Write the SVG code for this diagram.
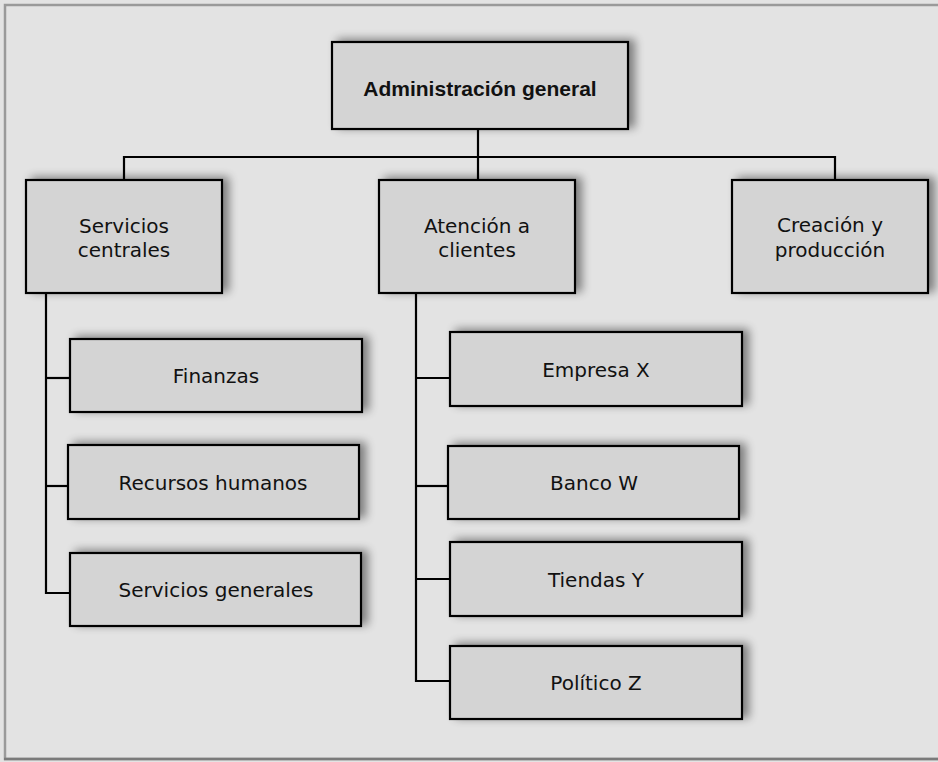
<svg xmlns="http://www.w3.org/2000/svg" width="938" height="762" viewBox="0 0 938 762">
  <defs>
    <filter id="sh" x="-20%" y="-40%" width="140%" height="180%">
      <feGaussianBlur in="SourceAlpha" stdDeviation="5"/>
      <feOffset dx="6" dy="-2" result="b"/>
      <feComponentTransfer><feFuncA type="linear" slope="0.45"/></feComponentTransfer>
      <feMerge><feMergeNode/><feMergeNode in="SourceGraphic"/></feMerge>
    </filter>
  </defs>
  <style>
    .box{fill:#d4d4d4;stroke:#000;stroke-width:2.2;filter:url(#sh)}
    .t{font-family:"DejaVu Sans",sans-serif;font-size:20px;fill:#111;text-anchor:middle}
    .tb{font-family:"Liberation Sans",Arial,sans-serif;font-size:21px;font-weight:bold;fill:#111;text-anchor:middle}
    .ln{fill:none;stroke:#000;stroke-width:2.2}
  </style>
  <rect x="0" y="0" width="938" height="762" fill="#e3e3e3"/>
  <rect x="5" y="5" width="945" height="754" fill="#e3e3e3" stroke="#9a9a9a" stroke-width="2.5"/>
  <line x1="4" y1="759" x2="938" y2="759" stroke="#7a7a7a" stroke-width="2.5"/>

  <g id="connectors">
    <path class="ln" d="M478 129 V180"/>
    <path class="ln" d="M124 180 V157 H835 V180"/>
    <path class="ln" d="M46 293 V593 H70"/>
    <path class="ln" d="M46 378 H70"/>
    <path class="ln" d="M46 486 H68"/>
    <path class="ln" d="M416 293 V681 H450"/>
    <path class="ln" d="M416 378 H450"/>
    <path class="ln" d="M416 486 H448"/>
    <path class="ln" d="M416 579 H450"/>
  </g>

  <g id="n-admin">
    <rect class="box" x="332" y="42" width="296" height="87"/>
    <text class="tb" x="480" y="96">Administración general</text>
  </g>
  <g id="n-servicios-centrales">
    <rect class="box" x="26" y="180" width="196" height="113"/>
    <text class="t" x="124" y="233">Servicios</text>
    <text class="t" x="124" y="257">centrales</text>
  </g>
  <g id="n-atencion">
    <rect class="box" x="379" y="180" width="196" height="113"/>
    <text class="t" x="477" y="233">Atención a</text>
    <text class="t" x="477" y="257">clientes</text>
  </g>
  <g id="n-creacion">
    <rect class="box" x="732" y="180" width="196" height="113"/>
    <text class="t" x="830" y="232">Creación y</text>
    <text class="t" x="830" y="257">producción</text>
  </g>
  <g id="n-finanzas">
    <rect class="box" x="70" y="339" width="292" height="73"/>
    <text class="t" x="216" y="383">Finanzas</text>
  </g>
  <g id="n-recursos">
    <rect class="box" x="68" y="445" width="291" height="74"/>
    <text class="t" x="213" y="490">Recursos humanos</text>
  </g>
  <g id="n-servicios-generales">
    <rect class="box" x="70" y="553" width="291" height="73"/>
    <text class="t" x="216" y="597">Servicios generales</text>
  </g>
  <g id="n-empresa-x">
    <rect class="box" x="450" y="332" width="292" height="74"/>
    <text class="t" x="596" y="377">Empresa X</text>
  </g>
  <g id="n-banco-w">
    <rect class="box" x="448" y="446" width="291" height="73"/>
    <text class="t" x="594" y="490">Banco W</text>
  </g>
  <g id="n-tiendas-y">
    <rect class="box" x="450" y="542" width="292" height="74"/>
    <text class="t" x="596" y="587">Tiendas Y</text>
  </g>
  <g id="n-politico-z">
    <rect class="box" x="450" y="646" width="292" height="73"/>
    <text class="t" x="596" y="690">Político Z</text>
  </g>
</svg>
